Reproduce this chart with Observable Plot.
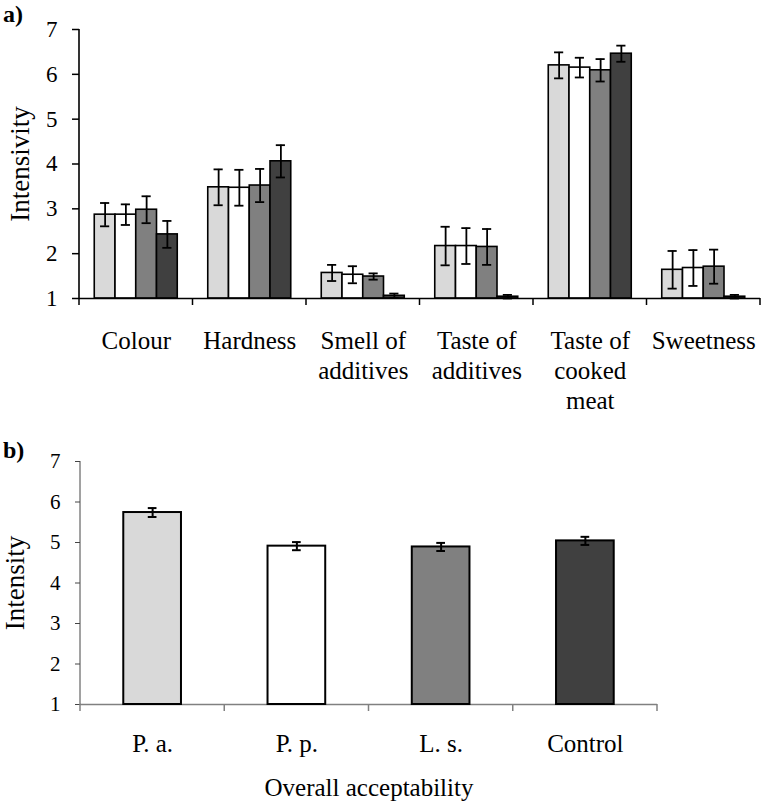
<!DOCTYPE html>
<html><head><meta charset="utf-8">
<script src="https://cdn.jsdelivr.net/npm/d3@7"></script>
<script src="https://cdn.jsdelivr.net/npm/@observablehq/plot@0.6"></script>
<style>
html,body{margin:0;padding:0;background:#fff}
#wrap{position:relative;width:776px;height:802px;font-family:"Liberation Serif","Times New Roman",serif;overflow:hidden}
.panel{position:absolute;left:0}
.tag{position:absolute;left:3px;font-weight:bold;font-size:24px;line-height:24px;color:#000}
</style></head><body>
<div id="wrap">
<div id="pa" class="panel" style="top:0"></div>
<div id="pb" class="panel" style="top:420px"></div>
<div class="tag" style="top:2px">a)</div>
<div class="tag" style="top:438px">b)</div>
</div>
<script>
// ---- data ----
const attributes = ["Colour", "Hardness", "Smell of additives", "Taste of additives", "Taste of cooked meat", "Sweetness"];
const attributeLabels = ["Colour", "Hardness", "Smell of\nadditives", "Taste of\nadditives", "Taste of\ncooked\nmeat", "Sweetness"];
const treatments = ["P. a.", "P. p.", "L. s.", "Control"];
const treatmentColors = ["#d9d9d9", "#ffffff", "#808080", "#404040"];
const yTicks = [1, 2, 3, 4, 5, 6, 7];

const meanPa = [2.87, 3.48, 1.57, 2.17, 6.20, 1.64];
const errPa = [0.26, 0.40, 0.18, 0.43, 0.29, 0.42];
const meanPp = [2.87, 3.47, 1.53, 2.17, 6.15, 1.68];
const errPp = [0.23, 0.40, 0.19, 0.40, 0.22, 0.40];
const meanLs = [2.98, 3.52, 1.49, 2.15, 6.09, 1.71];
const errLs = [0.30, 0.37, 0.07, 0.40, 0.25, 0.38];
const meanControl = [2.43, 4.06, 1.06, 1.04, 6.46, 1.04];
const errControl = [0.30, 0.36, 0.05, 0.04, 0.18, 0.04];

const overallMean = [5.74, 4.91, 4.89, 5.04];
const overallErr = [0.11, 0.10, 0.10, 0.10];

// ---- tables ----
const meansByTreatment = [meanPa, meanPp, meanLs, meanControl];
const errsByTreatment = [errPa, errPp, errLs, errControl];
const dataA = attributes.flatMap((a, i) => treatments.map((t, j) => ({
  attribute: a, treatment: t, mean: meansByTreatment[j][i], err: errsByTreatment[j][i]
})));
const dataB = treatments.map((t, j) => ({treatment: t, mean: overallMean[j], err: overallErr[j]}));
const labelOf = new Map(attributes.map((a, i) => [a, attributeLabels[i]]));

const font = "'Liberation Serif', 'Times New Roman', serif";
const intFmt = d => String(d);

// draws axis line at left and boundary ticks using the plot's own scales
function decorate(svg, xKey, {yStroke, yWidth, tStroke, tWidth, tLen}) {
  const xs = svg.scale(xKey), ys = svg.scale("y");
  const off = (xs.step - xs.bandwidth) / 2;
  const bounds = xs.domain.map(d => xs.apply(d) - off);
  bounds.push(bounds[bounds.length - 1] + xs.step);
  const yBase = ys.apply(ys.domain[0]), yTop = ys.apply(ys.domain[1]);
  const g = d3.select(svg).append("g");
  g.append("line").attr("x1", bounds[0]).attr("x2", bounds[0]).attr("y1", yTop).attr("y2", yBase)
    .attr("stroke", yStroke).attr("stroke-width", yWidth);
  g.selectAll("line.b").data(bounds).join("line").attr("class", "b")
    .attr("x1", d => d).attr("x2", d => d).attr("y1", yBase).attr("y2", yBase + tLen)
    .attr("stroke", tStroke).attr("stroke-width", tWidth);
}

// ---- panel a ----
const plotA = Plot.plot({
  width: 776, height: 420,
  marginTop: 29, marginBottom: 122, marginLeft: 79, marginRight: 16,
  style: {fontFamily: font, color: "black", background: "transparent", overflow: "visible"},
  fx: {domain: attributes, padding: 0, round: false, label: null},
  x: {domain: treatments, paddingInner: 0, paddingOuter: 0.735, round: false, axis: null},
  y: {domain: [1, 7]},
  color: {domain: treatments, range: treatmentColors},
  marks: [
    Plot.barY(dataA, {fx: "attribute", x: "treatment", y1: 1, y2: "mean", fill: "treatment", stroke: "black", strokeWidth: 1.6}),
    Plot.ruleY([1], {stroke: "black", strokeWidth: 1.6}),
    Plot.ruleX(dataA, {fx: "attribute", x: "treatment", y1: d => d.mean - d.err, y2: d => d.mean + d.err, stroke: "black", strokeWidth: 1.8}),
    Plot.tickY(dataA, {fx: "attribute", x: "treatment", y: d => d.mean - d.err, insetLeft: 5.8, insetRight: 5.8, stroke: "black", strokeWidth: 1.8}),
    Plot.tickY(dataA, {fx: "attribute", x: "treatment", y: d => d.mean + d.err, insetLeft: 5.8, insetRight: 5.8, stroke: "black", strokeWidth: 1.8}),
    Plot.axisY({ticks: yTicks, tickFormat: intFmt, tickSize: 7, tickPadding: 15, fontSize: 23, label: null, strokeWidth: 1.5}),
    Plot.axisY({ticks: [], tickSize: 0, label: "Intensivity", labelAnchor: "center", labelOffset: 70, labelArrow: "none", fontSize: 27}),
    Plot.axisFx({anchor: "bottom", tickSize: 0, tickPadding: 29, fontSize: 25, lineHeight: 1.2, label: null, tickFormat: d => labelOf.get(d)})
  ]
});
document.getElementById("pa").append(plotA);
decorate(plotA, "fx", {yStroke: "black", yWidth: 1.6, tStroke: "black", tWidth: 1.5, tLen: 7});

// ---- panel b ----
const plotB = Plot.plot({
  width: 776, height: 382,
  marginTop: 41, marginBottom: 98, marginLeft: 80, marginRight: 119,
  style: {fontFamily: font, color: "black", background: "transparent", overflow: "visible"},
  x: {domain: treatments, paddingInner: 0.6, paddingOuter: 0.3, round: false},
  y: {domain: [1, 7]},
  color: {domain: treatments, range: treatmentColors},
  marks: [
    Plot.ruleY([1], {stroke: "#808080", strokeWidth: 1.6}),
    Plot.barY(dataB, {x: "treatment", y1: 1, y2: "mean", fill: "treatment", stroke: "black", strokeWidth: 2}),
    Plot.ruleX(dataB, {x: "treatment", y1: d => d.mean - d.err, y2: d => d.mean + d.err, stroke: "black", strokeWidth: 2}),
    Plot.tickY(dataB, {x: "treatment", y: d => d.mean - d.err, insetLeft: 24.5, insetRight: 24.5, stroke: "black", strokeWidth: 2}),
    Plot.tickY(dataB, {x: "treatment", y: d => d.mean + d.err, insetLeft: 24.5, insetRight: 24.5, stroke: "black", strokeWidth: 2}),
    Plot.axisY({ticks: yTicks, tickFormat: intFmt, tickSize: 5, tickPadding: 15, fontSize: 21, label: null, stroke: "#444", strokeWidth: 1}),
    Plot.axisY({ticks: [], tickSize: 0, label: "Intensity", labelAnchor: "center", labelOffset: 76, labelArrow: "none", fontSize: 27}),
    Plot.axisX({tickSize: 0, tickPadding: 30, fontSize: 25, label: null}),
    Plot.axisX({ticks: [], tickSize: 0, label: "Overall acceptability", labelAnchor: "center", labelOffset: 91, labelArrow: "none", fontSize: 25})
  ]
});
document.getElementById("pb").append(plotB);
decorate(plotB, "x", {yStroke: "#444", yWidth: 1, tStroke: "#808080", tWidth: 1.5, tLen: 7});
</script>
</body></html>
